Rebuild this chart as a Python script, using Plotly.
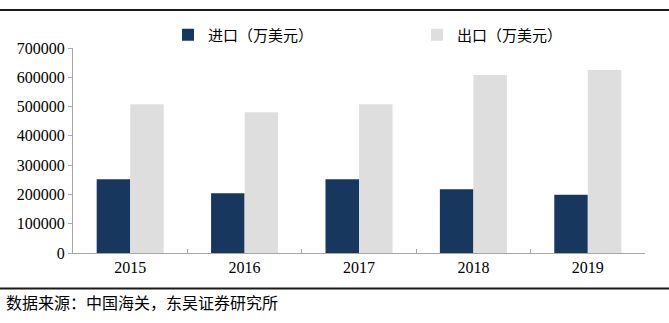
import plotly.graph_objects as go

years = ["2015", "2016", "2017", "2018", "2019"]
imports = [252000, 204000, 252000, 218000, 199000]
exports = [508000, 481000, 508000, 608000, 625000]
y_ticks = [0, 100000, 200000, 300000, 400000, 500000, 600000, 700000]

fig = go.Figure()
fig.add_trace(go.Bar(name="进口（万美元）", x=years, y=imports, marker_color="#17375e",
                     marker_line_width=0))
fig.add_trace(go.Bar(name="出口（万美元）", x=years, y=exports, marker_color="#dedede",
                     marker_line_width=0))

serif = "Liberation Serif, Times New Roman, serif"
cjk = "Noto Sans CJK SC"
L, R, T, B = 73, 24, 48, 70
W, H = 669 - L - R, 323 - T - B


def px_x(p):
    return (p - L) / W


def px_y(p):
    return (323 - B - p) / H


fig.update_layout(
    width=669, height=323,
    margin=dict(l=L, r=R, t=T, b=B, autoexpand=False),
    paper_bgcolor="white", plot_bgcolor="white",
    barmode="group", bargap=0.414, bargroupgap=0,
    font=dict(family=serif, size=16, color="black"),
    showlegend=True,
    legend=dict(orientation="h", x=px_x(168), y=px_y(35), xanchor="left", yanchor="middle",
                font=dict(family=cjk, size=15, color="black"),
                entrywidth=204, itemwidth=30, traceorder="normal",
                bgcolor="rgba(0,0,0,0)"),
    xaxis=dict(showline=True, linecolor="#a6a6a6", linewidth=1,
               ticks="inside", tickson="boundaries", ticklen=4, tickcolor="#a6a6a6",
               tickfont=dict(family=serif, size=16), showgrid=False),
    yaxis=dict(range=[0, 700000], tickvals=y_ticks, ticktext=[str(v) for v in y_ticks],
               showline=True, linecolor="#a6a6a6", linewidth=1,
               ticks="outside", ticklen=4, tickcolor="#a6a6a6", showgrid=False,
               zeroline=False, tickfont=dict(family=serif, size=16)),
    shapes=[
        dict(type="line", xref="paper", yref="paper", x0=px_x(0), x1=px_x(669),
             y0=px_y(10), y1=px_y(10), line=dict(color="#1a1a1a", width=2)),
        dict(type="line", xref="paper", yref="paper", x0=px_x(0), x1=px_x(669),
             y0=px_y(288.5), y1=px_y(288.5), line=dict(color="#1a1a1a", width=2)),
    ],
    annotations=[
        dict(text="数据来源：中国海关，东吴证券研究所", xref="paper", yref="paper",
             x=px_x(4), y=px_y(302), xanchor="left", yanchor="middle",
             showarrow=False, font=dict(family=cjk, size=16, color="black")),
    ],
)
fig.write_html("out.html")
